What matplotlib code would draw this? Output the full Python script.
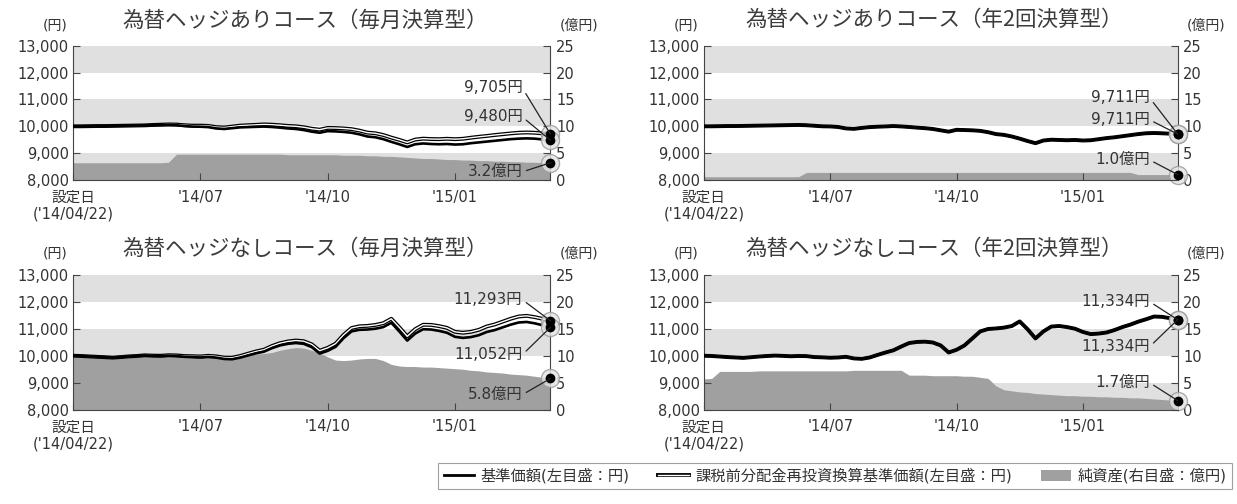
import numpy as np
import matplotlib
matplotlib.use('Agg')
import matplotlib.pyplot as plt
import matplotlib.patheffects as pe
from matplotlib.lines import Line2D
from matplotlib.patches import Patch, Rectangle

plt.rcParams['font.family'] = ['DejaVu Sans', 'Noto Sans CJK JP']

# ---- data (61 points per series, from launch 14/04/22 to end of period) ----
tick_labels = ["設定日\n('14/04/22)", "'14/07", "'14/10", "'15/01"]
tick_pos = [0, 16, 32, 48]

# 為替ヘッジありコース(毎月決算型)
hm_nav = [10000, 10000, 10005, 10010, 10010, 10015, 10020, 10025, 10030, 10035,
          10040, 10045, 10050, 10040, 10010, 9990, 9985, 9970, 9920, 9900,
          9930, 9960, 9970, 9980, 9990, 9975, 9950, 9920, 9900, 9860,
          9800, 9760, 9820, 9810, 9790, 9760, 9700, 9620, 9590, 9520,
          9420, 9330, 9230, 9330, 9360, 9340, 9330, 9340, 9320, 9330,
          9370, 9400, 9430, 9460, 9490, 9520, 9540, 9550, 9540, 9510, 9480]
hm_reinv = [10000, 10000, 10005, 10010, 10010, 10015, 10020, 10025, 10030, 10035,
            10050, 10060, 10070, 10065, 10040, 10025, 10025, 10015, 9970, 9955,
            9990, 10025, 10040, 10055, 10070, 10060, 10040, 10015, 10000, 9965,
            9910, 9875, 9940, 9935, 9920, 9895, 9840, 9765, 9740, 9675,
            9580, 9495, 9400, 9505, 9540, 9525, 9520, 9535, 9520, 9535,
            9575, 9610, 9640, 9675, 9705, 9735, 9760, 9770, 9760, 9735, 9705]
hm_assets = [3.2, 3.2, 3.2, 3.2, 3.2, 3.2, 3.2, 3.2, 3.2, 3.2,
             3.2, 3.2, 3.3, 4.8, 4.8, 4.8, 4.8, 4.8, 4.8, 4.8,
             4.8, 4.8, 4.8, 4.8, 4.8, 4.8, 4.8, 4.7, 4.7, 4.7,
             4.7, 4.7, 4.7, 4.7, 4.6, 4.6, 4.6, 4.5, 4.5, 4.4,
             4.4, 4.3, 4.2, 4.1, 4.0, 4.0, 3.9, 3.8, 3.8, 3.7,
             3.7, 3.6, 3.6, 3.5, 3.5, 3.4, 3.4, 3.3, 3.3, 3.2, 3.2]

# 為替ヘッジありコース(年2回決算型)
hs_nav = [10000, 10000, 10005, 10010, 10010, 10015, 10020, 10025, 10030, 10035,
          10040, 10045, 10050, 10040, 10020, 10000, 9995, 9975, 9920, 9905,
          9940, 9970, 9985, 9995, 10010, 9995, 9975, 9950, 9930, 9900,
          9850, 9800, 9870, 9860, 9850, 9830, 9780, 9710, 9680, 9620,
          9540, 9450, 9370, 9470, 9500, 9490, 9480, 9490, 9470, 9480,
          9520, 9560, 9590, 9630, 9670, 9710, 9740, 9750, 9740, 9725, 9711]
hs_reinv = hs_nav
hs_assets = [0.6, 0.6, 0.6, 0.6, 0.6, 0.6, 0.6, 0.6, 0.6, 0.6,
             0.6, 0.6, 0.6, 1.4, 1.4, 1.4, 1.4, 1.4, 1.4, 1.4,
             1.4, 1.4, 1.4, 1.4, 1.4, 1.4, 1.4, 1.4, 1.4, 1.4,
             1.4, 1.4, 1.4, 1.4, 1.4, 1.4, 1.4, 1.4, 1.4, 1.4,
             1.4, 1.4, 1.4, 1.4, 1.4, 1.4, 1.4, 1.4, 1.4, 1.4,
             1.4, 1.4, 1.4, 1.4, 1.4, 1.0, 1.0, 1.0, 1.0, 1.0, 1.0]

# 為替ヘッジなしコース(毎月決算型)
um_nav = [10000, 9990, 9975, 9960, 9945, 9930, 9950, 9975, 9990, 10010,
          9995, 9985, 10000, 9990, 9960, 9950, 9935, 9955, 9930, 9880,
          9870, 9930, 10010, 10090, 10150, 10280, 10380, 10440, 10470, 10440,
          10320, 10080, 10180, 10330, 10650, 10900, 10960, 10970, 11000, 11060,
          11220, 10900, 10560, 10820, 10980, 10970, 10920, 10850, 10700, 10660,
          10690, 10760, 10880, 10950, 11050, 11150, 11230, 11250, 11200, 11130, 11052]
um_reinv = [10000, 9990, 9975, 9960, 9945, 9930, 9950, 9975, 9990, 10015,
            10004, 9999, 10019, 10013, 9988, 9982, 9972, 9997, 9976, 9931,
            9926, 9990, 10075, 10159, 10224, 10359, 10463, 10528, 10563, 10537,
            10422, 10186, 10291, 10446, 10770, 11025, 11090, 11104, 11139, 11204,
            11368, 11053, 10717, 10982, 11147, 11141, 11096, 11031, 10885, 10850,
            10884, 10959, 11084, 11158, 11263, 11368, 11452, 11477, 11431, 11366, 11293]
um_assets = [9.7, 9.7, 9.7, 9.8, 9.8, 9.8, 9.8, 9.9, 9.9, 9.9,
             9.9, 10.0, 10.0, 10.0, 10.0, 10.0, 10.0, 10.0, 10.0, 10.0,
             10.1, 10.1, 10.2, 10.3, 10.4, 10.6, 11.0, 11.3, 11.5, 11.4,
             11.0, 10.5, 9.8, 9.2, 9.1, 9.2, 9.4, 9.5, 9.5, 9.1,
             8.4, 8.1, 8.0, 8.0, 7.9, 7.9, 7.8, 7.7, 7.6, 7.5,
             7.3, 7.2, 7.0, 6.9, 6.8, 6.6, 6.5, 6.4, 6.2, 6.0, 5.8]

# 為替ヘッジなしコース(年2回決算型)
us_nav = [10000, 9990, 9970, 9950, 9935, 9920, 9945, 9970, 9990, 10005,
          9995, 9980, 9990, 9985, 9950, 9940, 9925, 9935, 9960, 9900,
          9885, 9935, 10030, 10120, 10200, 10340, 10470, 10510, 10520, 10490,
          10380, 10120, 10220, 10380, 10640, 10900, 10990, 11010, 11040, 11100,
          11270, 10980, 10640, 10900, 11080, 11100, 11060, 11000, 10880, 10800,
          10820, 10860, 10950, 11060, 11150, 11260, 11350, 11450, 11440, 11390, 11334]
us_reinv = us_nav
us_assets = [5.7, 5.8, 7.1, 7.1, 7.1, 7.1, 7.1, 7.2, 7.2, 7.2,
             7.2, 7.2, 7.2, 7.2, 7.2, 7.2, 7.2, 7.2, 7.2, 7.3,
             7.3, 7.3, 7.3, 7.3, 7.3, 7.3, 6.4, 6.4, 6.4, 6.3,
             6.3, 6.3, 6.3, 6.2, 6.2, 6.0, 5.8, 4.4, 3.7, 3.5,
             3.3, 3.2, 3.0, 2.9, 2.8, 2.7, 2.6, 2.6, 2.5, 2.5,
             2.4, 2.4, 2.3, 2.3, 2.2, 2.2, 2.1, 2.0, 1.9, 1.8, 1.7]

panels = [
    dict(title="為替ヘッジありコース（毎月決算型）", nav=hm_nav, reinv=hm_reinv, assets=hm_assets,
         labels=("9,705円", "9,480円", "3.2億円"),
         rect=[0.059, 0.643, 0.386, 0.266], txt_y=(0.687, 0.47, 0.06)),
    dict(title="為替ヘッジありコース（年2回決算型）", nav=hs_nav, reinv=hs_reinv, assets=hs_assets,
         labels=("9,711円", "9,711円", "1.0億円"),
         rect=[0.569, 0.643, 0.383, 0.266], txt_y=(0.612, 0.448, 0.149)),
    dict(title="為替ヘッジなしコース（毎月決算型）", nav=um_nav, reinv=um_reinv, assets=um_assets,
         labels=("11,293円", "11,052円", "5.8億円"),
         rect=[0.059, 0.187, 0.386, 0.268], txt_y=(0.815, 0.407, 0.111)),
    dict(title="為替ヘッジなしコース（年2回決算型）", nav=us_nav, reinv=us_reinv, assets=us_assets,
         labels=("11,334円", "11,334円", "1.7億円"),
         rect=[0.569, 0.187, 0.383, 0.268], txt_y=(0.80, 0.467, 0.20)),
]

band_color = '#e0e0e0'
fill_color = '#a0a0a0'
text_color = '#333333'
double_fx = [pe.Stroke(linewidth=2.8, foreground='black'), pe.Normal()]

fig = plt.figure(figsize=(12.37, 5.04), dpi=100)

for p in panels:
    x = np.arange(len(p['nav']))
    ax = fig.add_axes(p['rect'])
    ax2 = ax.twinx()
    # ax (yen, left) is drawn over ax2 (100 million yen, right)
    ax.set_zorder(ax2.get_zorder() + 1)
    ax.patch.set_visible(False)

    ax.set_xlim(0, len(x) - 1)
    ax.set_ylim(8000, 13000)
    ax2.set_ylim(0, 25)

    for lo in (8000, 10000, 12000):
        ax2.add_patch(Rectangle((0, lo), 1, 1000, transform=ax.get_yaxis_transform(),
                                facecolor=band_color, edgecolor='none', zorder=0))
    ax2.fill_between(x, 0, p['assets'], color=fill_color, lw=0, zorder=1)

    ax.plot(x, p['reinv'], color='white', lw=1.0, path_effects=double_fx, zorder=3)
    ax.plot(x, p['nav'], color='black', lw=1.9, zorder=4)

    # end markers
    for a, val in ((ax, p['reinv'][-1]), (ax, p['nav'][-1]), (ax2, p['assets'][-1])):
        a.plot(x[-1], val, 'o', ms=13, mfc='#e4e4e4', mec='#9a9a9a', mew=1, alpha=0.8,
               clip_on=False, zorder=5)
    for a, val in ((ax, p['reinv'][-1]), (ax, p['nav'][-1]), (ax2, p['assets'][-1])):
        a.plot(x[-1], val, 'o', ms=6, color='black', clip_on=False, zorder=6)

    arrow = dict(arrowstyle='-', color='#222222', lw=0.9, shrinkA=1, shrinkB=0, relpos=(1, 0.5))
    ax.annotate(p['labels'][0], xy=(x[-1], p['reinv'][-1]), xytext=(0.941, p['txt_y'][0]),
                textcoords='axes fraction', ha='right', va='center', fontsize=11,
                color=text_color, arrowprops=arrow, annotation_clip=False, zorder=7)
    ax.annotate(p['labels'][1], xy=(x[-1], p['nav'][-1]), xytext=(0.941, p['txt_y'][1]),
                textcoords='axes fraction', ha='right', va='center', fontsize=11,
                color=text_color, arrowprops=arrow, annotation_clip=False, zorder=7)
    ax2.annotate(p['labels'][2], xy=(x[-1], p['assets'][-1]), xytext=(0.941, p['txt_y'][2]),
                 textcoords='axes fraction', ha='right', va='center', fontsize=11,
                 color=text_color, arrowprops=arrow, annotation_clip=False, zorder=7)

    # axes styling
    ax.set_yticks(range(8000, 13001, 1000))
    ax.set_yticklabels(['{:,}'.format(v) for v in range(8000, 13001, 1000)])
    ax2.set_yticks(range(0, 26, 5))
    ax.set_xticks(tick_pos)
    ax.set_xticklabels(tick_labels, linespacing=1.15)
    ax.tick_params(axis='y', direction='in', length=5, width=0.8, color='#444444',
                   labelsize=10.5, labelcolor=text_color, pad=3)
    ax.tick_params(axis='x', direction='in', length=5, width=0.8, color='#444444',
                   labelsize=10.5, labelcolor=text_color, pad=7)
    ax2.tick_params(axis='y', direction='in', length=5, width=0.8, color='#444444',
                    labelsize=10.5, labelcolor=text_color, pad=4)
    for s in ('top', 'right'):
        ax.spines[s].set_visible(False)
    for s in ('top', 'left', 'bottom'):
        ax2.spines[s].set_visible(False)
    for s in ('left', 'bottom'):
        ax.spines[s].set_color('#444444')
    ax2.spines['right'].set_color('#444444')

    ax.text(0.487, 1.19, p['title'], transform=ax.transAxes, ha='center', va='center',
            fontsize=15.5, color='#3c3c3c', family=['Noto Sans CJK JP', 'DejaVu Sans'])
    ax.text(-0.038, 1.155, '(円)', transform=ax.transAxes, ha='center', va='center',
            fontsize=10, color=text_color)
    ax.text(1.06, 1.155, '(億円)', transform=ax.transAxes, ha='center', va='center',
            fontsize=10, color=text_color)

handles = [Line2D([], [], color='black', lw=2.0),
           Line2D([], [], color='white', lw=1.0, path_effects=double_fx),
           Patch(facecolor=fill_color, edgecolor='none')]
labels = ['基準価額(左目盛：円)', '課税前分配金再投資換算基準価額(左目盛：円)', '純資産(右目盛：億円)']
leg = fig.legend(handles, labels, loc='center', bbox_to_anchor=(0.675, 0.056), ncol=3,
                 frameon=True, fancybox=False, edgecolor='#888888', fontsize=11,
                 handlelength=2.0, handletextpad=0.4, columnspacing=1.9,
                 borderpad=0.35, labelcolor=text_color)
leg.get_frame().set_linewidth(0.8)

fig.savefig('out.png', dpi=100)
